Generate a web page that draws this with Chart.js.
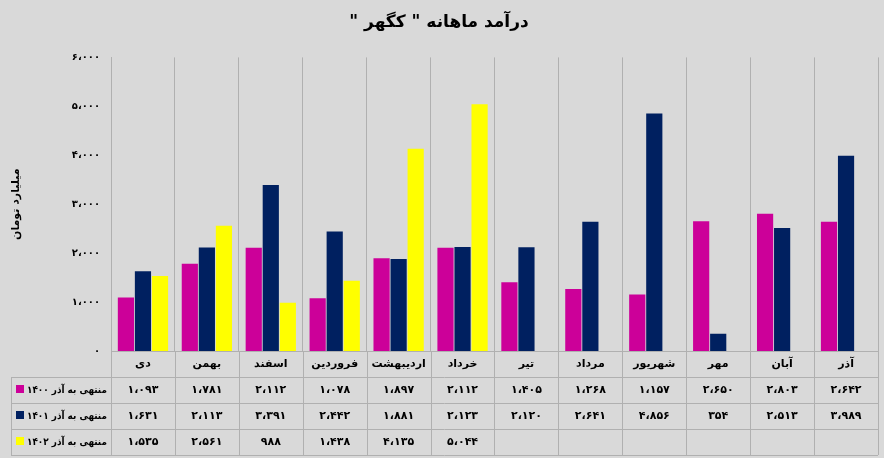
<html>
<head>
<meta charset="utf-8">
<script src="https://cdn.jsdelivr.net/npm/chart.js@4.4.0/dist/chart.umd.min.js"></script>
<style>
body { margin: 0; background: #d9d9d9; }
#wrap { width: 884px; height: 458px; }
</style>
</head>
<body>
<div id="wrap"><canvas id="c" width="884" height="458" dir="rtl"></canvas></div>
<script>
var months = ["دی", "بهمن", "اسفند", "فروردین", "اردیبهشت", "خرداد", "تیر", "مرداد", "شهریور", "مهر", "آبان", "آذر"];
var seriesNames = ["منتهی به آذر ۱۴۰۰", "منتهی به آذر ۱۴۰۱", "منتهی به آذر ۱۴۰۲"];
var s1400 = [1093, 1781, 2112, 1078, 1897, 2112, 1405, 1268, 1157, 2650, 2803, 2642];
var s1401 = [1631, 2113, 3391, 2442, 1881, 2123, 2120, 2641, 4856, 354, 2513, 3989];
var s1402 = [1535, 2561, 988, 1438, 4135, 5044, null, null, null, null, null, null];
var colors = ["#cc0099", "#002060", "#ffff00"];
var font = "bold 11px 'DejaVu Sans'";

function fa(n) { return n.toLocaleString('fa-IR').replace(/٬/g, '،'); }

var tablePlugin = {
    id: 'table',
    afterDraw: function (chart) {
        var ctx = chart.ctx;
        var x = chart.scales.x;
        var area = chart.chartArea;
        var left = 11, right = area.right;
        var rowH = 26, top = area.bottom;
        var step = (x.getPixelForValue(1) - x.getPixelForValue(0));
        var data = [s1400, s1401, s1402];
        ctx.save();
        ctx.direction = "rtl";
        ctx.strokeStyle = "#b0b0b0";
        ctx.lineWidth = 1;
        for (var r = 1; r <= 4; r++) {
            var yy = Math.round(top + r * rowH) + 0.5;
            ctx.beginPath(); ctx.moveTo(left, yy); ctx.lineTo(right, yy); ctx.stroke();
        }
        ctx.beginPath(); ctx.moveTo(left + 0.5, top + rowH); ctx.lineTo(left + 0.5, top + 4 * rowH); ctx.stroke();
        for (var i = 0; i <= months.length; i++) {
            var xx = Math.round(area.left + i * step) + 0.5;
            ctx.beginPath(); ctx.moveTo(xx, top); ctx.lineTo(xx, top + 4 * rowH); ctx.stroke();
        }
        ctx.fillStyle = "#000";
        ctx.font = font;
        ctx.textAlign = "center";
        ctx.textBaseline = "middle";
        for (var i = 0; i < months.length; i++) {
            var cx = x.getPixelForValue(i);
            ctx.fillText(months[i], cx, top + rowH / 2);
            for (var r = 0; r < 3; r++) {
                if (data[r][i] !== null) ctx.fillText(fa(data[r][i]), cx, top + rowH * (r + 1.5));
            }
        }
        ctx.font = "bold 10px 'DejaVu Sans'";
        ctx.textAlign = "right";
        for (var r = 0; r < 3; r++) {
            var cy = top + rowH * (r + 1.5);
            ctx.fillStyle = colors[r];
            ctx.fillRect(16, cy - 5, 8, 8);
            ctx.fillStyle = "#000";
            var avail = area.left - 4 - 27;
            var w = ctx.measureText(seriesNames[r]).width;
            var sc = Math.min(1, avail / w);
            ctx.save();
            ctx.translate(area.left - 4, cy);
            ctx.scale(sc, 1);
            ctx.fillText(seriesNames[r], 0, 0);
            ctx.restore();
        }
        ctx.restore();
    }
};

new Chart(document.getElementById("c"), {
    type: 'bar',
    data: {
        labels: months,
        datasets: [
            { label: seriesNames[0], data: s1400, backgroundColor: colors[0] },
            { label: seriesNames[1], data: s1401, backgroundColor: colors[1] },
            { label: seriesNames[2], data: s1402, backgroundColor: colors[2] }
        ]
    },
    options: {
        responsive: false,
        animation: false,
        layout: { padding: { top: 8, right: 6, bottom: 107, left: 0 } },
        datasets: { bar: { barPercentage: 0.95, categoryPercentage: 0.8 } },
        plugins: {
            legend: { display: false },
            tooltip: { enabled: false },
            title: {
                display: true,
                text: 'درآمد ماهانه " کگهر "',
                color: '#000',
                font: { family: 'DejaVu Sans', size: 17, weight: 'bold' },
                padding: { top: 4, bottom: 25 }
            }
        },
        scales: {
            x: {
                ticks: { display: false },
                grid: { display: true, color: '#b0b0b0', drawTicks: false, offset: true },
                border: { color: '#b0b0b0' }
            },
            y: {
                min: 0, max: 6000,
                afterFit: function (s) { s.width = 111; },
                ticks: {
                    stepSize: 1000,
                    color: '#000',
                    font: { family: 'DejaVu Sans', size: 10, weight: 'bold' },
                    callback: function (v) { return fa(v); }
                },
                grid: { display: false },
                border: { color: '#b0b0b0' },
                title: {
                    display: true,
                    text: 'میلیارد تومان',
                    color: '#000',
                    padding: { top: 10, bottom: 4 },
                    font: { family: 'DejaVu Sans', size: 11, weight: 'bold' }
                }
            }
        }
    },
    plugins: [tablePlugin]
});
</script>
</body>
</html>
